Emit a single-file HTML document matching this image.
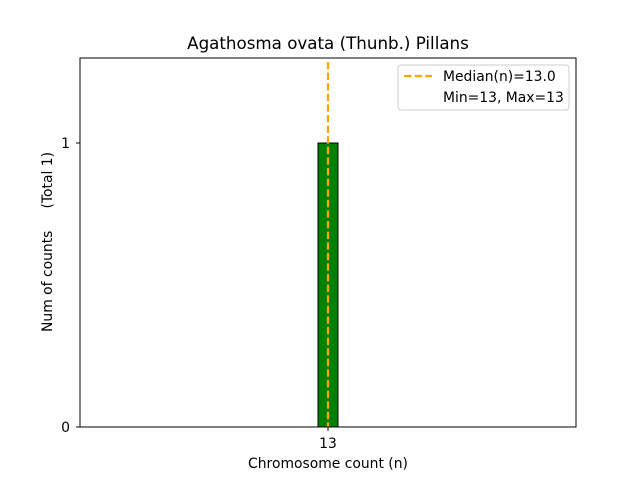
<!DOCTYPE html>
<html><head><style>body{margin:0;background:#fff}svg{display:block}text{white-space:pre}</style></head><body>
<svg width="640" height="480" xmlns="http://www.w3.org/2000/svg" font-family="DejaVu Sans, Liberation Sans, sans-serif">
<rect width="640" height="480" fill="#fff"/>
<text x="328" y="49" font-size="16.7" text-anchor="middle">Agathosma ovata (Thunb.) Pillans</text>
<line x1="80" y1="427" x2="395" y2="427" stroke="#000" stroke-width="1"/>
<rect x="318" y="143" width="20" height="284" fill="#008000" stroke="#000" stroke-width="1"/>
<line x1="328" y1="62" x2="328" y2="427" stroke="#ffa500" stroke-width="2.2" stroke-dasharray="7.4,3.2"/>
<rect x="80" y="58" width="496" height="369" fill="none" stroke="#000" stroke-width="1"/>
<line x1="80" y1="427" x2="76" y2="427" stroke="#000"/>
<line x1="80" y1="143" x2="76" y2="143" stroke="#000"/>
<text x="70" y="432" font-size="13.9" text-anchor="end">0</text>
<text x="70" y="148" font-size="13.9" text-anchor="end">1</text>
<line x1="328" y1="427" x2="328" y2="431" stroke="#000"/>
<text x="328" y="448" font-size="13.9" text-anchor="middle">13</text>
<text x="328" y="468" font-size="13.9" text-anchor="middle">Chromosome count (n)</text>
<text transform="translate(52,242) rotate(-90)" font-size="13.9" text-anchor="middle" xml:space="preserve">Num of counts     (Total 1)</text>
<rect x="398" y="65" width="171" height="45" rx="3" fill="#fff" stroke="#ccc"/>
<line x1="404" y1="76" x2="432" y2="76" stroke="#ffa500" stroke-width="2.2" stroke-dasharray="7.4,3.2"/>
<text x="443" y="81" font-size="13.9">Median(n)=13.0</text>
<text x="443" y="102" font-size="13.9">Min=13, Max=13</text>
</svg>
</body></html>
